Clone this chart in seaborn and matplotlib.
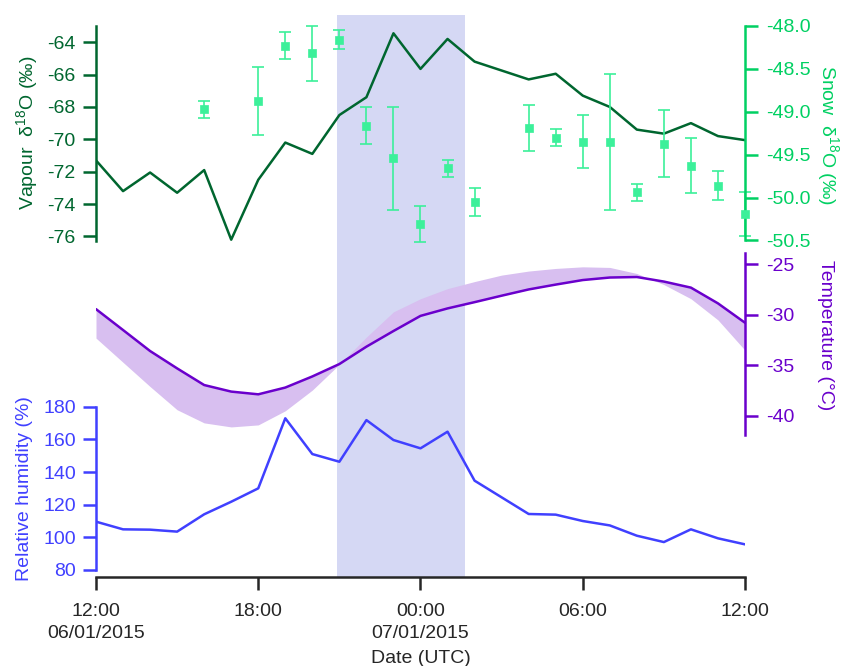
import matplotlib
matplotlib.use("Agg")
import matplotlib.pyplot as plt
import seaborn as sns

# Hours since 06/01/2015 12:00 UTC
hours = list(range(25))
vapour_d18o = [-71.3, -73.2, -72.05, -73.3, -71.9, -76.2, -72.5, -70.2, -70.9, -68.5,
               -67.4, -63.45, -65.65, -63.8, -65.2, -65.75, -66.3, -65.95, -67.3, -68.0,
               -69.4, -69.65, -69.0, -69.8, -70.05]

snow_hours = [4, 6, 7, 8, 9, 10, 11, 12, 13, 14, 16, 17, 18, 19, 20, 21, 22, 23, 24]
snow_d18o = [-48.97, -48.875, -48.23, -48.32, -48.16, -49.16, -49.54, -50.31, -49.66, -50.05,
             -49.19, -49.30, -49.35, -49.35, -49.94, -49.37, -49.63, -49.86, -50.19]
snow_err = [0.10, 0.40, 0.16, 0.32, 0.11, 0.22, 0.60, 0.21, 0.10, 0.16,
            0.27, 0.10, 0.31, 0.79, 0.10, 0.39, 0.32, 0.17, 0.26]

temperature = [-29.43, -31.5, -33.58, -35.3, -36.95, -37.6, -37.87, -37.2, -36.1, -34.87,
               -33.15, -31.6, -30.1, -29.36, -28.74, -28.1, -27.48, -27.0, -26.55, -26.3,
               -26.25, -26.7, -27.3, -28.86, -30.78]
temperature_alt = [-32.3, -34.7, -37.1, -39.4, -40.7, -41.1, -40.9, -39.5, -37.45, -34.9,
                   -32.2, -29.7, -28.4, -27.4, -26.7, -26.06, -25.66, -25.4, -25.24, -25.3,
                   -25.9, -27.0, -28.4, -30.5, -33.5]

rel_humidity = [109.6, 104.9, 104.7, 103.5, 114.1, 121.8, 130.0, 172.9, 151.0, 146.3,
                171.8, 159.6, 154.5, 164.7, 134.7, 124.5, 114.3, 113.9, 110.0, 107.3,
                101.0, 97.1, 104.9, 99.4, 95.7]

tick_hours = [0, 6, 12, 18, 24]
tick_labels = ["12:00\n06/01/2015", "18:00", "00:00\n07/01/2015", "06:00", "12:00"]
event_start, event_end = 8.9, 13.65

# Colours
C_VAP = "#00662f"
C_SNOW_AX = "#00d062"
C_SNOW = "#3cf09a"
C_TEMP = "#6a00cc"
C_BAND = "#d8bff0"
C_RH = "#4040ff"
C_SHADE = "#d5d8f4"

sns.set_style("ticks")
plt.rcParams["font.family"] = ["Liberation Sans", "DejaVu Sans"]
plt.rcParams["mathtext.fontset"] = "custom"
plt.rcParams["mathtext.rm"] = "Liberation Sans"
plt.rcParams["mathtext.it"] = "Liberation Sans:italic"
plt.rcParams["axes.unicode_minus"] = False
plt.rcParams["font.size"] = 14

fig = plt.figure(figsize=(8.43, 6.66), dpi=100)
L, W = 96 / 843, 649 / 843


def pos(top_px, bot_px):
    return [L, 1 - bot_px / 666, W, (bot_px - top_px) / 666]


def style_axis(ax, side, color, pad=5):
    ax.patch.set_alpha(0)
    ax.set_xlim(0, 24)
    ax.xaxis.set_visible(False)
    for s in ["left", "right", "top", "bottom"]:
        ax.spines[s].set_visible(s == side)
    ax.spines[side].set_color(color)
    ax.spines[side].set_linewidth(1.8)
    ax.yaxis.set_ticks_position(side)
    ax.yaxis.set_label_position(side)
    ax.tick_params(axis="y", colors=color, length=9.5, width=1.8, pad=pad, labelsize=14)
    ax.yaxis.label.set_color(color)


# base axis: shading + time axis
base = fig.add_axes(pos(15, 577))
base.axvspan(event_start, event_end, color=C_SHADE, lw=0, zorder=0)
base.set_xlim(0, 24)
base.set_ylim(0, 1)
for s in ["left", "right", "top"]:
    base.spines[s].set_visible(False)
base.spines["bottom"].set_linewidth(1.8)
base.set_yticks([])
base.set_xticks(tick_hours)
base.set_xticklabels(tick_labels)
for t in base.get_xticklabels():
    t.set_linespacing(1.4)
base.tick_params(axis="x", length=9.5, width=1.8, pad=9, labelsize=14)
base.set_xlabel("Date (UTC)", fontsize=14, labelpad=6)

# vapour
ax_v = fig.add_axes(pos(26, 240.5))
sns.lineplot(x=hours, y=vapour_d18o, ax=ax_v, color=C_VAP, linewidth=1.8)
ax_v.set_ylim(-76.25, -63.0)
ax_v.set_yticks(range(-76, -63, 2))
style_axis(ax_v, "left", C_VAP)
ax_v.set_ylabel("Vapour  δ$^{18}$O (‰)")
ax_v.yaxis.set_label_coords(-0.087, 0.5)

# snow
ax_s = fig.add_axes(pos(26, 240.5))
ax_s.errorbar(snow_hours, snow_d18o, yerr=snow_err, fmt="none", ecolor=C_SNOW,
              elinewidth=1.2, capsize=4.5, capthick=1.2, clip_on=False)
sns.scatterplot(x=snow_hours, y=snow_d18o, ax=ax_s, marker="s", s=34, color=C_SNOW,
                edgecolor=C_SNOW, linewidth=0.5, clip_on=False, zorder=3)
ax_s.set_ylim(-50.5, -48.0)
ax_s.set_yticks([-50.5, -50.0, -49.5, -49.0, -48.5, -48.0])
ax_s.set_yticklabels([f"{v:.1f}" for v in [-50.5, -50.0, -49.5, -49.0, -48.5, -48.0]])
style_axis(ax_s, "right", C_SNOW_AX, pad=6)
ax_s.set_ylabel("Snow  δ$^{18}$O (‰)", rotation=270, va="bottom")
ax_s.yaxis.set_label_coords(1.108, 0.49)

# temperature
ax_t = fig.add_axes(pos(253.3, 435))
ax_t.fill_between(hours, temperature, temperature_alt, color=C_BAND, lw=0)
sns.lineplot(x=hours, y=temperature, ax=ax_t, color=C_TEMP, linewidth=1.8)
ax_t.set_ylim(-41.9, -23.9)
ax_t.set_yticks([-40, -35, -30, -25])
style_axis(ax_t, "right", C_TEMP, pad=6)
ax_t.set_ylabel("Temperature (°C)", rotation=270, va="bottom")
ax_t.yaxis.set_label_coords(1.111, 0.548)

# relative humidity
ax_rh = fig.add_axes(pos(406.7, 570))
sns.lineplot(x=hours, y=rel_humidity, ax=ax_rh, color=C_RH, linewidth=1.8)
ax_rh.set_ylim(80, 180)
ax_rh.set_yticks(range(80, 181, 20))
style_axis(ax_rh, "left", C_RH)
ax_rh.set_ylabel("Relative humidity (%)")
ax_rh.yaxis.set_label_coords(-0.097, 0.5)

fig.savefig("out.png", dpi=100)
